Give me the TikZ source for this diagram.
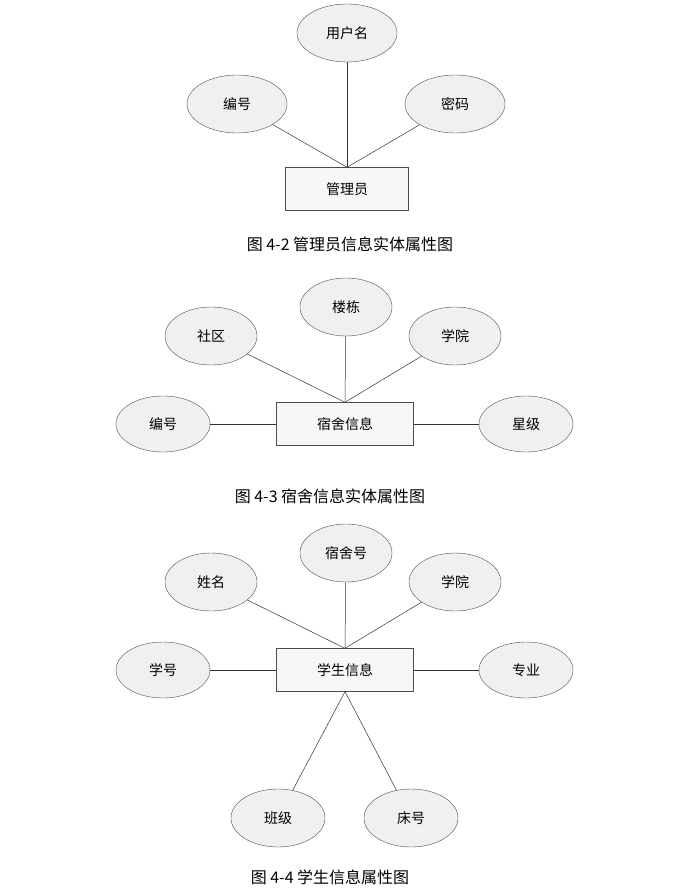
\documentclass[tikz,border=0pt]{standalone}
\usepackage{fontspec}
\setmainfont{Noto Sans CJK SC}
\usetikzlibrary{shapes.geometric, positioning}
\tikzset{
  attr/.style={ellipse, draw=black!70, fill=black!6, minimum width=100pt, minimum height=58pt, font=\fontsize{14}{16}\selectfont},
  ent/.style={rectangle, draw=black!70, fill=black!3, minimum width=133pt, minimum height=43pt, font=\fontsize{14}{16}\selectfont},
  captext/.style={font=\fontsize{16}{18}\selectfont},
  link/.style={draw=black!80, line width=0.5pt}
}
\begin{document}
\begin{tikzpicture}[x=1pt,y=-1pt]
\useasboundingbox (0,0) rectangle (687,896);

% 4-2
\node[attr] (user) at (347,33) {用户名};
\node[attr] (id1) at (237,104) {编号};
\node[attr] (pwd) at (455,104) {密码};
\node[ent, minimum width=123pt] (admin) at (347,189) {管理员};
\draw[link] (user) -- (admin.north);
\draw[link] (id1) -- (admin.north);
\draw[link] (pwd) -- (admin.north);
\node[captext] (c2) at (350,244) {图 4-2 管理员信息实体属性图};

% 4-3
\node[attr, minimum width=92pt] (bld) at (346,307) {楼栋};
\node[attr, minimum width=92pt] (area) at (211,336) {社区};
\node[attr, minimum width=92pt] (col1) at (455,336) {学院};
\node[attr, minimum width=94pt, minimum height=56pt] (id2) at (163,424) {编号};
\node[attr, minimum width=94pt, minimum height=56pt] (star) at (526,424) {星级};
\node[ent, minimum width=137pt] (dorm) at (345,424) {宿舍信息};
\draw[link] (bld) -- (dorm.north);
\draw[link] (area) -- (dorm.north);
\draw[link] (col1) -- (dorm.north);
\draw[link] (id2) -- (dorm.west);
\draw[link] (star) -- (dorm.east);
\node[captext] (c3) at (330,496) {图 4-3 宿舍信息实体属性图};

% 4-4
\node[attr, minimum width=92pt] (room) at (346,553) {宿舍号};
\node[attr, minimum width=92pt] (name) at (211,582) {姓名};
\node[attr, minimum width=92pt] (col2) at (455,582) {学院};
\node[attr, minimum width=94pt, minimum height=56pt] (sno) at (163,670) {学号};
\node[attr, minimum width=94pt, minimum height=56pt] (major) at (526,670) {专业};
\node[ent, minimum width=137pt] (stu) at (345,670) {学生信息};
\node[attr, minimum width=94pt] (cls) at (278,818) {班级};
\node[attr, minimum width=94pt] (bed) at (411,818) {床号};
\draw[link] (room) -- (stu.north);
\draw[link] (name) -- (stu.north);
\draw[link] (col2) -- (stu.north);
\draw[link] (sno) -- (stu.west);
\draw[link] (major) -- (stu.east);
\draw[link] (stu.south) -- (cls);
\draw[link] (stu.south) -- (bed);
\node[captext] (c4) at (330,877) {图 4-4 学生信息属性图};
\end{tikzpicture}
\end{document}
